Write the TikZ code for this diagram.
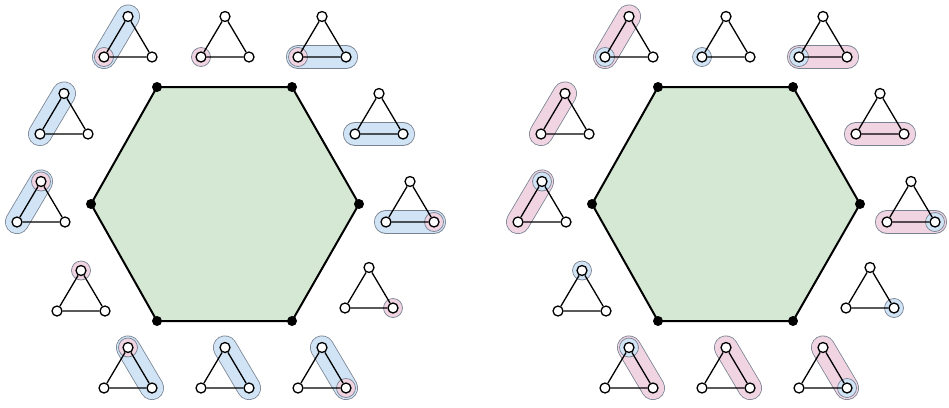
\documentclass[tikz,border=0pt]{standalone}
\usetikzlibrary{calc}
\definecolor{bluef}{RGB}{208,228,246}
\definecolor{pinkf}{RGB}{240,212,226}
\definecolor{greenf}{RGB}{213,232,212}
\definecolor{bordc}{RGB}{120,130,145}
\pgfdeclarelayer{bg}
\pgfsetlayers{bg,main}
\tikzset{
  vtx/.style={circle,draw=black,fill=white,line width=1.3pt,inner sep=0pt,minimum size=10pt},
  hv/.style={circle,fill=black,inner sep=0pt,minimum size=10pt},
  tedge/.style={draw=black,line width=1.3pt},
  hexedge/.style={draw=black,line width=2pt,fill=greenf,line join=round},
  band/.style={draw=bordc,line width=0.8pt,double=#1,double distance=22.5pt,line cap=round},
  ring/.style={draw=bordc,line width=0.7pt,fill=#1},
  tri/.pic={
    \node[vtx] (-t) at (0,-20.5) {};
    \node[vtx] (-l) at (-24,20) {};
    \node[vtx] (-r) at (24,20) {};
    \draw[tedge] (-t) -- (-l) -- (-r) -- (-t);
  }
}
\newcommand\hexside[3]{%
  \node[hv] (#1h1) at (157,87) {};
  \node[hv] (#1h2) at (292,87) {};
  \node[hv] (#1h3) at (359,204) {};
  \node[hv] (#1h4) at (292,321) {};
  \node[hv] (#1h5) at (157,321) {};
  \node[hv] (#1h6) at (91,204) {};
  \pic (#1a) at (128,37) {tri};
  \pic (#1b) at (225,37) {tri};
  \pic (#1c) at (322,37) {tri};
  \pic (#1d) at (379,114) {tri};
  \pic (#1e) at (410,202) {tri};
  \pic (#1f) at (369,288) {tri};
  \pic (#1g) at (322,368) {tri};
  \pic (#1h) at (225,368) {tri};
  \pic (#1i) at (128,368) {tri};
  \pic (#1j) at (81,291) {tri};
  \pic (#1k) at (41,202) {tri};
  \pic (#1l) at (64,114) {tri};
  \begin{pgfonlayer}{bg}
    \draw[hexedge] (#1h1.center) -- (#1h2.center) -- (#1h3.center) -- (#1h4.center) -- (#1h5.center) -- (#1h6.center) -- cycle;
    \draw[band=#2] (#1a-t.center) -- (#1a-l.center);
    \draw[band=#2] (#1c-l.center) -- (#1c-r.center);
    \draw[band=#2] (#1d-l.center) -- (#1d-r.center);
    \draw[band=#2] (#1e-l.center) -- (#1e-r.center);
    \draw[band=#2] (#1g-t.center) -- (#1g-r.center);
    \draw[band=#2] (#1h-t.center) -- (#1h-r.center);
    \draw[band=#2] (#1i-t.center) -- (#1i-r.center);
    \draw[band=#2] (#1k-t.center) -- (#1k-l.center);
    \draw[band=#2] (#1l-t.center) -- (#1l-l.center);
    \path[ring=#3] (#1a-l.center) circle[radius=9.5pt];
    \path[ring=#3] (#1b-l.center) circle[radius=9.5pt];
    \path[ring=#3] (#1c-l.center) circle[radius=9.5pt];
    \path[ring=#3] (#1e-r.center) circle[radius=9.5pt];
    \path[ring=#3] (#1f-r.center) circle[radius=9.5pt];
    \path[ring=#3] (#1g-r.center) circle[radius=9.5pt];
    \path[ring=#3] (#1i-t.center) circle[radius=9.5pt];
    \path[ring=#3] (#1j-t.center) circle[radius=9.5pt];
    \path[ring=#3] (#1k-t.center) circle[radius=9.5pt];
  \end{pgfonlayer}
}
\begin{document}
\begin{tikzpicture}[x=1pt,y=-1pt]
  \useasboundingbox (0,0) rectangle (949,407);
  \hexside{L}{bluef}{pinkf}
  \begin{scope}[xshift=501pt]
    \hexside{R}{pinkf}{bluef}
  \end{scope}
\end{tikzpicture}
\end{document}
